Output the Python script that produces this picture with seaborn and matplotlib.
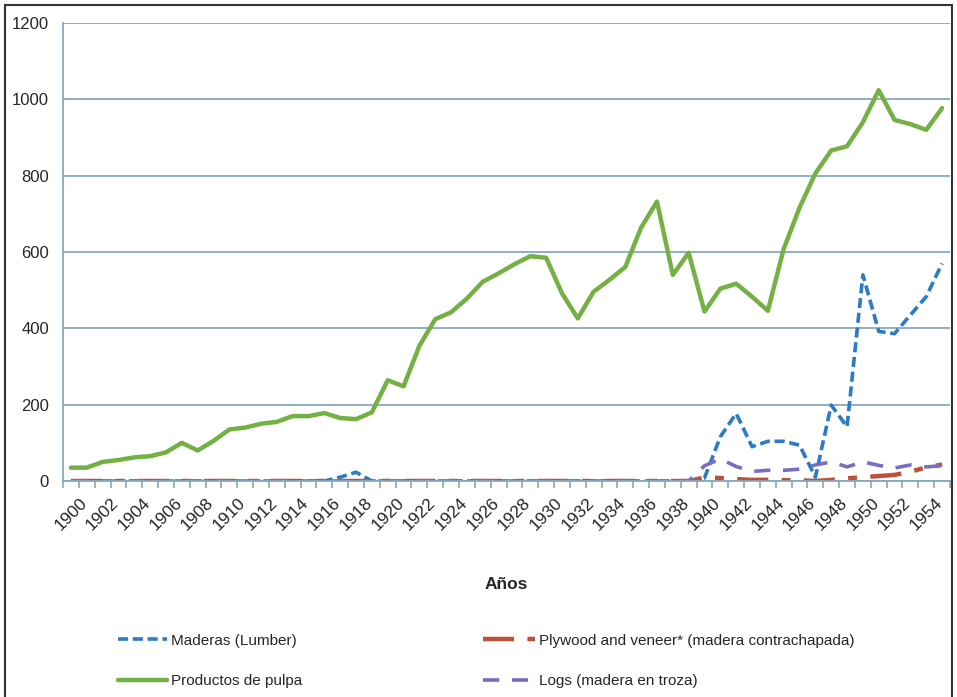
import numpy as np
import pandas as pd
import seaborn as sns
import matplotlib.pyplot as plt
from matplotlib.patches import Rectangle

# --- data ---
years = list(range(1900, 1956))

productos_pulpa = [35, 35, 50, 55, 62, 65, 75, 100, 80, 105,
                   135, 140, 150, 155, 170, 170, 178, 165, 162, 180,
                   264, 248, 354, 424, 442, 478, 522, 544, 568, 589,
                   585, 492, 426, 496, 527, 561, 664, 732, 540, 598,
                   444, 504, 517, 483, 446, 608, 716, 806, 866, 877,
                   940, 1024, 946, 935, 920, 977]

maderas = [0] * 17 + [10, 23] + [0] * 21 + \
          [8, 116, 177, 90, 104, 104, 94, 10, 199, 142,
           540, 392, 386, 435, 483, 570]

plywood = [0] * 40 + [9, 8, 5, 3, 3, 2, 2, 0, 3, 7,
                      10, 13, 16, 24, 36, 43]

logs = [0] * 40 + [40, 58, 38, 25, 28, 28, 31, 42, 50, 37,
                   50, 41, 34, 42, 37, 40]

series_names = ["Maderas (Lumber)", "Plywood and veneer* (madera contrachapada)",
                "Productos de pulpa", "Logs (madera en troza)"]
y_ticks = [0, 200, 400, 600, 800, 1000, 1200]
x_label = "Años"

df = pd.DataFrame({"year": years,
                   series_names[0]: maderas,
                   series_names[1]: plywood,
                   series_names[2]: productos_pulpa,
                   series_names[3]: logs})

sns.set_style("white")
plt.rcParams['font.family'] = ['Liberation Sans', 'DejaVu Sans']

fig = plt.figure(figsize=(9.57, 6.97), dpi=100)
ax = fig.add_axes([63 / 957, 216 / 697, 887 / 957, 458 / 697])

grid_col = "#86a9bf"
colors = ["#2b7bc6", "#c0503a", "#74b044", "#7a6cc0"]
widths = [2.6, 3.2, 3.2, 2.6]
dash_patterns = [(2.8, 1.3), (7, 3, 2, 3), None, (4.5, 3.5)]

lines = {}
for name, c, lw, d in zip(series_names, colors, widths, dash_patterns):
    sns.lineplot(data=df, x="year", y=name, color=c, lw=lw, ax=ax, label=name)
    ln = ax.lines[-1]
    if d is not None:
        ln.set_dashes(d)
    ln.set_solid_joinstyle("round")
    lines[name] = ln

ax.legend_.remove()

ax.set_xlim(1899.5, 1955.5)
ax.set_ylim(0, 1200)
ax.set_yticks(y_ticks)
ax.set_yticklabels([str(v) for v in y_ticks], fontsize=12)
ax.yaxis.grid(True, color=grid_col, lw=1.3)
ax.set_axisbelow(True)

ax.set_xticks(years[::2])
ax.set_xticklabels([str(y) for y in years[::2]], rotation=45, ha="center",
                   va="top", fontsize=12.5)
ax.set_xticks(np.arange(1899.5, 1956, 1), minor=True)
ax.tick_params(axis="x", which="major", length=0, pad=10)
ax.tick_params(axis="x", which="minor", length=5, color=grid_col, width=1.2, direction="out")
ax.tick_params(axis="y", length=5, color=grid_col, width=1.2, direction="out", pad=5)
ax.tick_params(axis="x", which="minor", bottom=True)

for s in ["top", "right"]:
    ax.spines[s].set_visible(False)
for s in ["left", "bottom"]:
    ax.spines[s].set_color(grid_col)
    ax.spines[s].set_linewidth(1.3)

ax.set_ylabel("")
ax.set_xlabel(x_label, fontsize=12.5, fontweight="bold", labelpad=32)

# legend below the chart, two columns
h = [lines[n] for n in series_names]
leg1 = fig.legend([h[0], h[2]], [series_names[0], series_names[2]],
                  loc="upper left", bbox_to_anchor=(104 / 957, 1 - 620 / 697),
                  frameon=False, fontsize=11, handlelength=3.2, handletextpad=0.3,
                  labelspacing=1.75)
leg2 = fig.legend([h[1], h[3]], [series_names[1], series_names[3]],
                  loc="upper left", bbox_to_anchor=(469 / 957, 1 - 620 / 697),
                  frameon=False, fontsize=11, handlelength=3.4, handletextpad=0.3,
                  labelspacing=1.75)

# outer frame of the picture
fig.patches.append(Rectangle((5 / 957, -0.02), 947 / 957, 1 - 5 / 697 + 0.02,
                             transform=fig.transFigure, fill=False,
                             edgecolor="#333333", lw=1.5))

fig.savefig("out.png", dpi=100)
